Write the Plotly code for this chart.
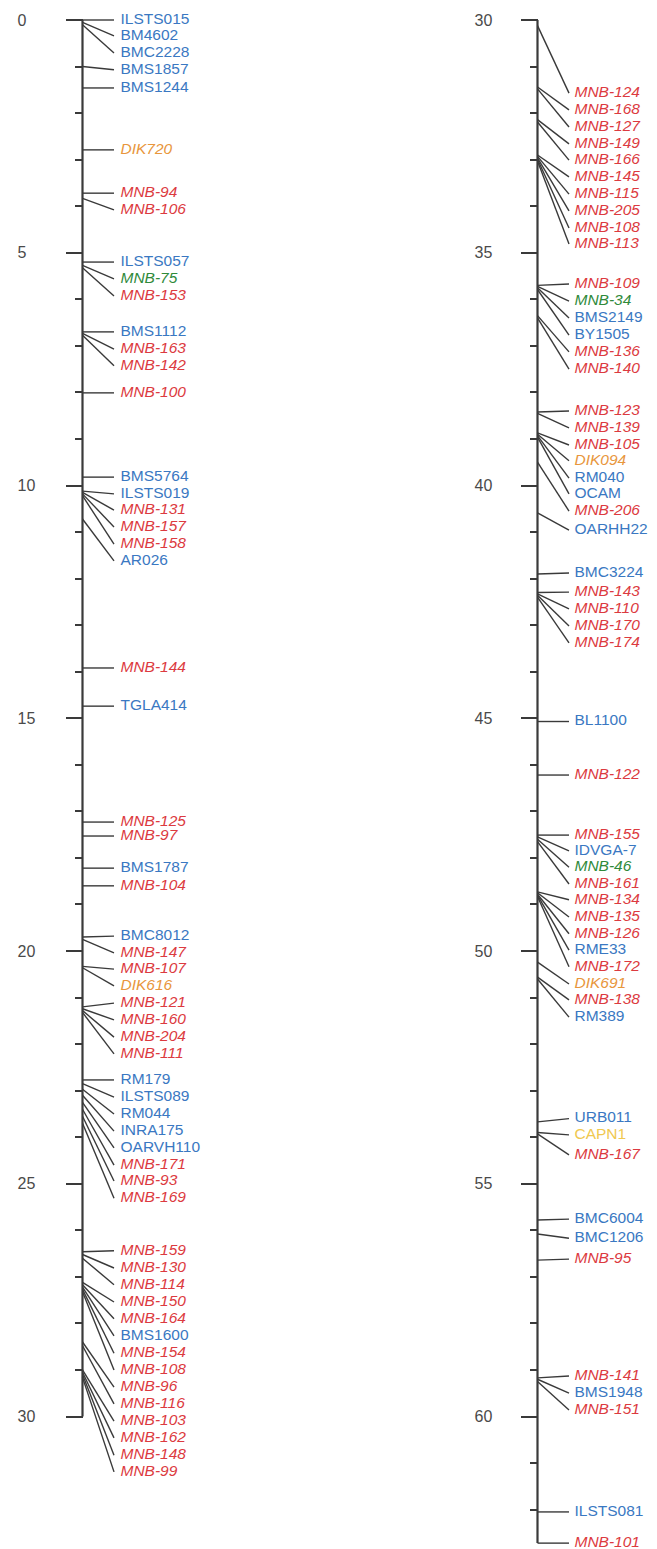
import plotly.graph_objects as go

# ---------------- data (positions in cM) ----------------
markers = [
    "ILSTS015", "BM4602", "BMC2228", "BMS1857", "BMS1244", "DIK720", "MNB-94", "MNB-106",
    "ILSTS057", "MNB-75", "MNB-153", "BMS1112", "MNB-163", "MNB-142", "MNB-100",
    "BMS5764", "ILSTS019", "MNB-131", "MNB-157", "MNB-158", "AR026", "MNB-144", "TGLA414",
    "MNB-125", "MNB-97", "BMS1787", "MNB-104", "BMC8012", "MNB-147", "MNB-107", "DIK616",
    "MNB-121", "MNB-160", "MNB-204", "MNB-111", "RM179", "ILSTS089", "RM044", "INRA175",
    "OARVH110", "MNB-171", "MNB-93", "MNB-169", "MNB-159", "MNB-130", "MNB-114", "MNB-150",
    "MNB-164", "BMS1600", "MNB-154", "MNB-108", "MNB-96", "MNB-116", "MNB-103", "MNB-162",
    "MNB-148", "MNB-99",
    "MNB-124", "MNB-168", "MNB-127", "MNB-149", "MNB-166", "MNB-145", "MNB-115", "MNB-205",
    "MNB-108", "MNB-113", "MNB-109", "MNB-34", "BMS2149", "BY1505", "MNB-136", "MNB-140",
    "MNB-123", "MNB-139", "MNB-105", "DIK094", "RM040", "OCAM", "MNB-206", "OARHH22",
    "BMC3224", "MNB-143", "MNB-110", "MNB-170", "MNB-174", "BL1100", "MNB-122", "MNB-155",
    "IDVGA-7", "MNB-46", "MNB-161", "MNB-134", "MNB-135", "MNB-126", "RME33", "MNB-172",
    "DIK691", "MNB-138", "RM389", "URB011", "CAPN1", "MNB-167", "BMC6004", "BMC1206",
    "MNB-95", "MNB-141", "BMS1948", "MNB-151", "ILSTS081", "MNB-101",
]

positions = [
    0.00, 0.05, 0.10, 1.00, 1.46, 2.79, 3.72, 3.83,
    5.20, 5.27, 5.32, 6.70, 6.73, 6.77, 8.01,
    9.82, 10.12, 10.15, 10.18, 10.22, 10.72, 13.92, 14.74,
    17.23, 17.53, 18.22, 18.60, 19.70, 19.75, 20.33, 20.36,
    21.20, 21.24, 21.28, 21.32, 22.77, 22.85, 22.97, 23.10,
    23.25, 23.40, 23.55, 23.70, 26.46, 26.52, 26.60, 27.12,
    27.17, 27.22, 27.27, 27.32, 28.40, 28.48, 29.00, 29.05,
    29.10, 29.16,
    30.12, 31.44, 31.48, 32.14, 32.19, 32.90, 32.93, 32.96,
    32.99, 33.03, 35.70, 35.72, 35.75, 35.79, 36.35, 36.40,
    38.42, 38.45, 38.87, 38.90, 38.93, 38.96, 39.50, 40.59,
    41.90, 42.30, 42.33, 42.36, 42.40, 45.07, 46.22, 47.51,
    47.55, 47.60, 47.65, 48.73, 48.75, 48.78, 48.80, 48.83,
    50.24, 50.56, 50.60, 53.67, 53.90, 53.93, 55.78, 56.08,
    56.64, 59.17, 59.20, 59.25, 62.05, 62.72,
]

label_positions = [
    0.00, 0.34, 0.71, 1.07, 1.46, 2.79, 3.72, 4.08,
    5.20, 5.56, 5.93, 6.70, 7.07, 7.43, 8.01,
    9.82, 10.18, 10.53, 10.89, 11.26, 11.62, 13.92, 14.74,
    17.23, 17.53, 18.22, 18.60, 19.68, 20.04, 20.39, 20.75,
    21.12, 21.48, 21.85, 22.21, 22.77, 23.14, 23.50, 23.87,
    24.23, 24.60, 24.94, 25.31, 26.44, 26.81, 27.17, 27.54,
    27.90, 28.27, 28.64, 29.00, 29.37, 29.73, 30.10, 30.46,
    30.83, 31.19,
    31.57, 31.93, 32.30, 32.66, 33.01, 33.37, 33.74, 34.10,
    34.47, 34.81, 35.67, 36.04, 36.40, 36.77, 37.13, 37.50,
    38.40, 38.76, 39.13, 39.47, 39.84, 40.18, 40.55, 40.96,
    41.88, 42.29, 42.65, 43.02, 43.38, 45.07, 46.22, 47.51,
    47.85, 48.20, 48.56, 48.90, 49.27, 49.63, 49.98, 50.34,
    50.71, 51.05, 51.42, 53.60, 53.95, 54.38, 55.76, 56.17,
    56.62, 59.13, 59.50, 59.86, 62.05, 62.72,
]

kinds = [
    "ms", "ms", "ms", "ms", "ms", "dik", "mnb", "mnb",
    "ms", "new", "mnb", "ms", "mnb", "mnb", "mnb",
    "ms", "ms", "mnb", "mnb", "mnb", "ms", "mnb", "ms",
    "mnb", "mnb", "ms", "mnb", "ms", "mnb", "mnb", "dik",
    "mnb", "mnb", "mnb", "mnb", "ms", "ms", "ms", "ms",
    "ms", "mnb", "mnb", "mnb", "mnb", "mnb", "mnb", "mnb",
    "mnb", "ms", "mnb", "mnb", "mnb", "mnb", "mnb", "mnb",
    "mnb", "mnb",
    "mnb", "mnb", "mnb", "mnb", "mnb", "mnb", "mnb", "mnb",
    "mnb", "mnb", "mnb", "new", "ms", "ms", "mnb", "mnb",
    "mnb", "mnb", "mnb", "dik", "ms", "ms", "mnb", "ms",
    "ms", "mnb", "mnb", "mnb", "mnb", "ms", "mnb", "mnb",
    "ms", "new", "mnb", "mnb", "mnb", "mnb", "ms", "mnb",
    "dik", "mnb", "ms", "ms", "gene", "mnb", "ms", "ms",
    "mnb", "mnb", "ms", "mnb", "ms", "mnb",
]

map_length = 62.72      # cM, end of the linkage group
column_break = 30       # the map continues in a second column from 30 cM
major_step = 5
minor_step = 1

# ---------------- styles / layout ----------------
W, H = 657, 1549
PX_PER_CM = 46.55
TOP_PAD = 20
FONT = "Liberation Sans, Arial, sans-serif"
INK = "#3a3a3a"
KIND_STYLE = {
    "ms":   dict(color="#3a78c2", style="normal"),
    "mnb":  dict(color="#dc3a40", style="italic"),
    "new":  dict(color="#2f8a3a", style="italic"),
    "dik":  dict(color="#e8963c", style="italic"),
    "gene": dict(color="#f0c850", style="normal"),
}

columns = [
    dict(x=82.5, start=0, end=column_break, yaxis="y", label_gap=38, standoff=27),
    dict(x=537.5, start=column_break, end=map_length, yaxis="y2", label_gap=37, standoff=25),
]
CONNECTOR = 31.5

fig = go.Figure()

for ci, col in enumerate(columns):
    idx = [i for i, p in enumerate(positions)
           if (p < column_break if ci == 0 else p >= column_break)]
    # chromosome bar
    fig.add_trace(go.Scatter(
        x=[col["x"], col["x"]], y=[col["start"], col["end"]], mode="lines",
        line=dict(color=INK, width=2.2), yaxis=col["yaxis"], hoverinfo="skip",
        showlegend=False, cliponaxis=False))
    # connectors
    cx, cy = [], []
    for i in idx:
        cx += [col["x"], col["x"] + CONNECTOR, None]
        cy += [positions[i], label_positions[i], None]
    fig.add_trace(go.Scatter(
        x=cx, y=cy, mode="lines", line=dict(color=INK, width=1.4),
        yaxis=col["yaxis"], hoverinfo="skip", showlegend=False, cliponaxis=False))
    # labels
    for kind, st in KIND_STYLE.items():
        sel = [i for i in idx if kinds[i] == kind]
        if not sel:
            continue
        fig.add_trace(go.Scatter(
            x=[col["x"] + col["label_gap"]] * len(sel),
            y=[label_positions[i] for i in sel],
            text=[markers[i] for i in sel], mode="text", textposition="middle right",
            textfont=dict(family=FONT, size=15.5, color=st["color"], style=st["style"]),
            yaxis=col["yaxis"], hoverinfo="skip", showlegend=False, cliponaxis=False))


def yaxis_for(col):
    lo = col["start"] - TOP_PAD / PX_PER_CM
    hi = col["start"] + (H - TOP_PAD) / PX_PER_CM
    majors = [v for v in range(int(col["start"]), int(col["end"]) + 1) if v % major_step == 0]
    minors = [v for v in range(int(col["start"]), int(col["end"]) + 1, minor_step)]
    width_max = max(len(str(v)) for v in majors)
    texts = [str(v) + "\u2007" * (width_max - len(str(v))) for v in majors]
    return dict(
        range=[hi, lo], anchor="free", position=col["x"] / W, side="left",
        showline=False, showgrid=False, zeroline=False, automargin=False,
        ticks="outside", ticklen=17, tickwidth=2, tickcolor=INK,
        tickmode="array", tickvals=majors, ticktext=texts,
        tickfont=dict(family=FONT, size=16, color="#4a4a4a"),
        ticklabelstandoff=col["standoff"],
        minor=dict(tickmode="array", tickvals=minors, ticks="outside",
                   ticklen=8, tickwidth=2, tickcolor=INK, showgrid=False),
        fixedrange=True,
    )


y1 = yaxis_for(columns[0])
y2 = yaxis_for(columns[1])
y2["overlaying"] = "y"

fig.update_layout(
    width=W, height=H, margin=dict(l=0, r=0, t=0, b=0),
    paper_bgcolor="white", plot_bgcolor="white",
    xaxis=dict(range=[0, W], visible=False, fixedrange=True, domain=[0, 1]),
    yaxis=y1, yaxis2=y2, showlegend=False,
)

fig.write_html(
    "out.html",
    config={"displayModeBar": False},
    post_script="document.body.style.margin='0';document.body.style.overflow='hidden';",
)
